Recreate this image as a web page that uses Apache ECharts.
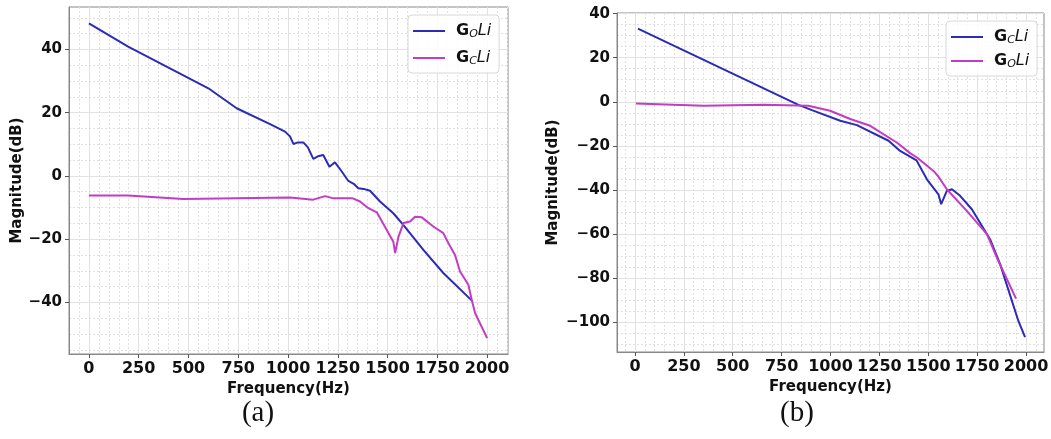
<!DOCTYPE html>
<html>
<head>
<meta charset="utf-8">
<script src="https://cdn.jsdelivr.net/npm/echarts@6/dist/echarts.min.js"></script>
<style>
  html, body { margin: 0; padding: 0; background: #fff; }
  #chart { width: 1051px; height: 439px; }
</style>
</head>
<body>
<div id="chart"></div>
<script>
// tick labels
var xTicks = [0, 250, 500, 750, 1000, 1250, 1500, 1750, 2000];
var yTicksA = [-40, -20, 0, 20, 40];
var yTicksB = [-100, -80, -60, -40, -20, 0, 20, 40];

// (a) values: [frequency Hz, magnitude dB]
var aGoLi = [[0,48.2],[197,40.9],[600,27.7],[742,21.4],[910,16.4],[985,14.0],[1010,12.5],[1027,10.1],
  [1050,10.6],[1077,10.6],[1100,9.0],[1127,5.4],[1150,6.2],[1177,6.6],[1208,2.9],[1236,4.3],
  [1270,1.4],[1303,-1.6],[1330,-2.5],[1353,-3.9],[1380,-4.1],[1412,-4.7],[1462,-8.1],[1529,-11.8],
  [1579,-15.5],[1680,-23.4],[1780,-30.7],[1925,-39.5]];
var aGcLi = [[0,-6.2],[197,-6.2],[474,-7.3],[1010,-6.8],[1127,-7.5],[1186,-6.4],[1228,-7.1],[1325,-7.1],
  [1362,-8.1],[1404,-10.2],[1446,-11.5],[1496,-17.1],[1529,-20.8],[1538,-24.4],[1546,-24.6],
  [1555,-19.2],[1580,-14.9],[1613,-14.4],[1638,-12.9],[1672,-13.1],[1730,-16.0],[1780,-18.1],
  [1806,-21.3],[1839,-25.0],[1864,-30.2],[1906,-34.4],[1923,-39.2],[1940,-43.4],[2000,-51.3]];

// (b)
var bGcLi = [[15,33.2],[836,-1.4],[905,-3.8],[1050,-8.6],[1135,-10.6],[1297,-17.7],[1356,-22.3],
  [1440,-26.6],[1493,-35.2],[1552,-42.0],[1566,-46.5],[1595,-40.5],[1621,-39.7],[1663,-42.7],
  [1723,-48.8],[1816,-62.4],[1868,-73.8],[1961,-99.5],[1995,-106.8]];
var bGoLi = [[5,-0.8],[351,-1.8],[657,-1.4],[887,-1.8],[998,-4.1],[1101,-7.8],[1203,-10.9],
  [1339,-18.5],[1407,-23.3],[1442,-25.3],[1527,-31.4],[1552,-34.0],[1595,-39.7],[1697,-49.5],
  [1800,-60.1],[1851,-70.8],[1949,-89.4]];

var BLUE = '#2b2bb6';
var MAGENTA = '#c23cc4';
var FONT = '"DejaVu Sans", sans-serif';

function minorVals(lo, hi, step, major) {
  var out = [];
  for (var v = lo; v <= hi + 1e-9; v += step) {
    if (Math.abs(v % major) > 1e-6) out.push(v);
  }
  return out;
}
function fmt(v) { return String(v).replace('-', '\u2212'); }

function mainAxis(gi, min, max, ticks, name, gap, isY) {
  return {
    type: 'value', gridIndex: gi, min: min, max: max,
    position: isY ? 'left' : 'bottom',
    name: name, nameLocation: 'middle', nameGap: gap,
    nameTextStyle: { fontFamily: FONT, fontWeight: 'bold', fontSize: 15, color: '#111' },
    axisLine: { show: true, onZero: false, lineStyle: { color: '#888', width: 1 } },
    axisTick: { show: true, inside: false, length: 4, customValues: ticks, lineStyle: { color: '#555' } },
    axisLabel: { show: true, customValues: ticks, margin: 7, formatter: fmt,
      fontFamily: FONT, fontWeight: 'bold', fontSize: isY ? 15 : 16, color: '#111' },
    splitLine: { show: true, lineStyle: { color: '#e2e2e2', width: 1, type: 'solid' } }
  };
}
function minorAxis(gi, min, max, vals, isY) {
  return {
    type: 'value', gridIndex: gi, min: min, max: max,
    position: isY ? 'left' : 'bottom',
    axisLine: { show: false, onZero: false },
    axisTick: { show: false, customValues: vals },
    axisLabel: { show: false },
    splitLine: { show: true, lineStyle: { color: '#e0e0e0', width: 1, type: [2, 2] } }
  };
}

var names = {
  a_go: ['G', 'O'], a_gc: ['G', 'C'], b_gc: ['G', 'C'], b_go: ['G', 'O']
};
var legendRich = {
  g: { fontFamily: FONT, fontWeight: 'bold', fontSize: 16, color: '#111', lineHeight: 18, padding: [0, 0, 0, 6] },
  s: { fontFamily: FONT, fontStyle: 'italic', fontSize: 11, color: '#111', verticalAlign: 'bottom', lineHeight: 14 },
  i: { fontFamily: FONT, fontStyle: 'italic', fontSize: 16, color: '#111', lineHeight: 18 }
};
function legendFmt(n) { return '{g|' + names[n][0] + '}{s|' + names[n][1] + '}{i|Li}'; }
function legend(left, top, data, gap, padTop) {
  return {
    orient: 'vertical', left: left, top: top, data: data,
    icon: 'rect', itemWidth: 32, itemHeight: 2, itemGap: gap,
    padding: [padTop, 8, 6, 5],
    backgroundColor: 'rgba(255,255,255,0.85)', borderColor: '#d8d8d8', borderWidth: 1, borderRadius: 4,
    formatter: legendFmt, textStyle: { rich: legendRich }, selectedMode: false
  };
}
function line(name, xi, yi, data, color) {
  return {
    name: name, type: 'line', xAxisIndex: xi, yAxisIndex: yi, data: data,
    showSymbol: false, symbol: 'none', color: color, animation: false,
    lineStyle: { color: color, width: 2 }
  };
}

var chart = echarts.init(document.getElementById('chart'));
chart.setOption({
  backgroundColor: '#fff',
  animation: false,
  grid: [
    { left: 69, top: 7, width: 439, height: 347, containLabel: false, outerBoundsMode: 'none',
      show: true, borderColor: '#888', borderWidth: 1 },
    { left: 617, top: 13, width: 427, height: 339, containLabel: false, outerBoundsMode: 'none',
      show: true, borderColor: '#888', borderWidth: 1 }
  ],
  xAxis: [
    minorAxis(0, -100, 2105, minorVals(-100, 2100, 50, 250), false),
    mainAxis(0, -100, 2105, xTicks, 'Frequency(Hz)', 24, false),
    minorAxis(1, -92, 2092, minorVals(-50, 2050, 50, 250), false),
    mainAxis(1, -92, 2092, xTicks, 'Frequency(Hz)', 23, false)
  ],
  yAxis: [
    minorAxis(0, -56.3, 53.4, minorVals(-55, 50, 5, 20), true),
    mainAxis(0, -56.3, 53.4, yTicksA, 'Magnitude(dB)', 44, true),
    minorAxis(1, -113.6, 40.3, minorVals(-110, 40, 5, 20), true),
    mainAxis(1, -113.6, 40.3, yTicksB, 'Magnitude(dB)', 56, true)
  ],
  legend: [
    legend(408, 15, ['a_go', 'a_gc'], 10, 8),
    legend(946, 21, ['b_gc', 'b_go'], 7, 8)
  ],
  series: [
    line('a_go', 1, 1, aGoLi, BLUE),
    line('a_gc', 1, 1, aGcLi, MAGENTA),
    line('b_gc', 3, 3, bGcLi, BLUE),
    line('b_go', 3, 3, bGoLi, MAGENTA)
  ],
  graphic: [
    { type: 'text', x: 258, y: 413, style: { text: '(a)', font: '29px "Liberation Serif", serif',
      fill: '#111', align: 'center', verticalAlign: 'middle', textAlign: 'center', textVerticalAlign: 'middle' } },
    { type: 'text', x: 797, y: 413, style: { text: '(b)', font: '29px "Liberation Serif", serif',
      fill: '#111', align: 'center', verticalAlign: 'middle', textAlign: 'center', textVerticalAlign: 'middle' } }
  ]
});
</script>
</body>
</html>
